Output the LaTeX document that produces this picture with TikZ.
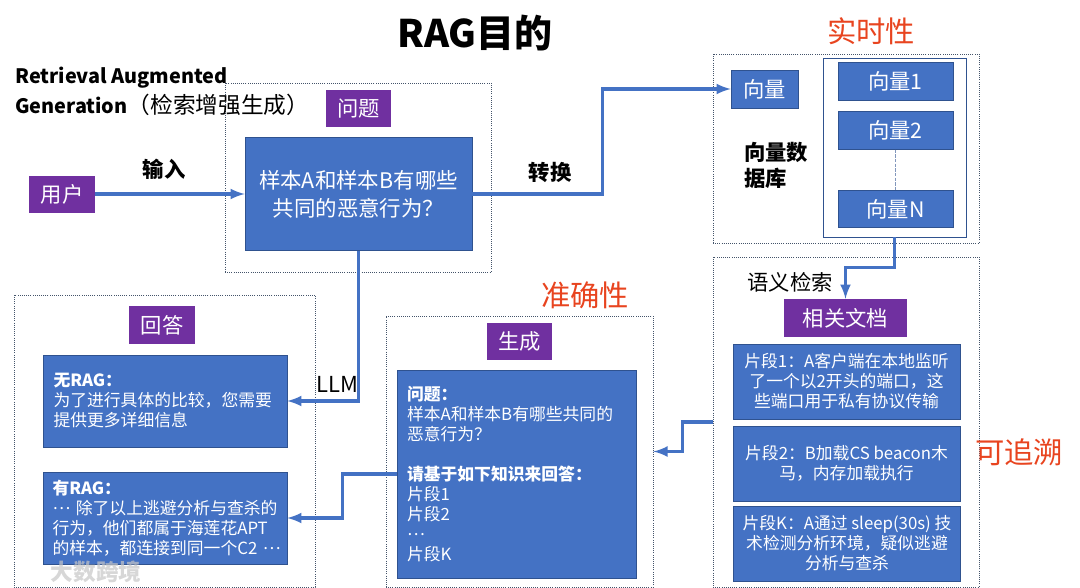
\documentclass[tikz,border=0pt]{standalone}
\usepackage{fontspec}
\setmainfont{Noto Sans CJK SC}
\definecolor{boxblue}{HTML}{4472C4}
\definecolor{boxedge}{HTML}{2F528F}
\definecolor{tagpurple}{HTML}{7030A0}
\definecolor{notered}{HTML}{E8441F}
\definecolor{panelline}{HTML}{44546A}
\newcommand{\middots}{\raisebox{0.3em}{⋯}}
\tikzset{
    sz/.style 2 args={minimum width=#1*0.75pt, minimum height=#2*0.75pt},
    panel/.style={draw=panelline, densely dotted, line width=0.6pt, inner sep=0pt},
    tag/.style={fill=tagpurple, text=white, inner sep=0pt, font=\fontsize{16}{20}\selectfont},
    block/.style={fill=boxblue, draw=boxedge, line width=0.4pt, text=white, inner sep=0pt, align=center},
    small/.style={font=\fontsize{12.6}{15}\selectfont},
    note/.style={text=notered, font=\fontsize{22}{25}\selectfont},
    flow/.style={->, draw=boxblue, line width=2.6pt},
    edgelabel/.style={black, font=\fontsize{16}{20}\selectfont\bfseries},
}
\begin{document}
\begin{tikzpicture}[>=latex, x=0.75pt, y=-0.75pt]
    \useasboundingbox (0,0) rectangle (1080,588);
    % Khung chấm
    \node[panel, sz={266}{189}] (askpanel) at (358,177.5) {};
    \node[panel, sz={266}{189}] (dbpanel) at (846,148.5) {};
    \node[panel, sz={266}{330}] (docpanel) at (846,422) {};
    \node[panel, sz={267}{271}] (genpanel) at (519.5,451.5) {};
    \node[panel, sz={301}{292}] (anspanel) at (164.5,441) {};
    % Tiêu đề
    \node[font=\fontsize{28.5}{32}\selectfont\bfseries] (title) at (475,33) {RAG目的};
    \node[anchor=north west, inner sep=0pt, align=left, font=\fontsize{14.9}{22.5}\selectfont] (intro) at (15,67)
        {\textbf{Retrieval Augmented}\\\textbf{Generation}{\fontsize{17}{22.5}\selectfont（检索增强生成）}};
    \node[note] (realtime) at (871,31) {实时性};
    \node[note] (accurate) at (585,295) {准确性};
    \node[note] (trace) at (1019,452) {可追溯};
    % Người dùng và câu hỏi
    \node[tag, sz={66}{37}] (user) at (62,194) {用户};
    \node[tag, sz={65}{37}] (asktag) at (358.5,108.5) {问题};
    \node[block, sz={227}{113}, font=\fontsize{16.1}{21}\selectfont] (ask) at (358.5,194)
        {样本A和样本B有哪些\\共同的恶意行为？};
    % Cơ sở dữ liệu
    \node[block, sz={67}{38}, font=\fontsize{16}{20}\selectfont] (vec) at (764.5,89) {向量};
    \node[draw=boxedge, fill=white, line width=0.6pt, sz={143}{179}] (vecstore) at (894.5,147.5) {};
    \foreach \name/\y/\lab in {vecone/81.5/向量1, vectwo/130.5/向量2, vecn/209/向量N} {
        \node[block, sz={115}{37.5}, font=\fontsize{16}{20}\selectfont] (\name) at (895.5,\y) {\lab};
    }
    \draw[boxedge!60, dash pattern=on 2.5pt off 1pt, line width=0.4pt] (vectwo) -- (vecn);
    \node[anchor=north west, inner sep=0pt, align=left, font=\fontsize{16}{19.5}\selectfont\bfseries] (dblabel) at (744,142)
        {向量数\\据库};
    % Tài liệu liên quan
    \node[font=\fontsize{16}{20}\selectfont] (search) at (790,282) {语义检索};
    \node[tag, sz={123}{38}] (docs) at (845.5,318) {相关文档};
    \node[block, small, sz={227}{75}] (chunka) at (846.5,381.5)
        {片段1：A客户端在本地监听\\了一个以2开头的端口，这\\些端口用于私有协议传输};
    \node[block, small, sz={227}{75}] (chunkb) at (846.5,463.5)
        {片段2：B加载CS beacon木\\马，内存加载执行};
    \node[block, small, sz={227}{75}] (chunkk) at (847,543.5)
        {片段K：A通过 sleep(30s) 技\\术检测分析环境，疑似逃避\\分析与查杀};
    % Sinh câu trả lời
    \node[tag, sz={65}{37}] (gentag) at (519.5,341.5) {生成};
    \node[block, small, sz={239}{208}, align=left, text width=219*0.75pt] (prompt) at (516.5,474)
        {\textbf{问题：}\\样本A和样本B有哪些共同的\\恶意行为？\\[15pt]\textbf{请基于如下知识来回答：}\\片段1\\片段2\\\middots\\片段K};
    \node[tag, sz={66}{38}] (anstag) at (162,325) {回答};
    \node[block, small, sz={244}{92}, align=left, text width=223*0.75pt] (norag) at (165,401)
        {\textbf{无RAG：}\\为了进行具体的比较，您需要\\提供更多详细信息};
    \node[block, small, sz={244}{92}, align=left, text width=225*0.75pt] (rag) at (165,518)
        {\textbf{有RAG：}\\\middots{} 除了以上逃避分析与查杀的\\行为，他们都属于海莲花APT\\的样本，都连接到同一个C2\rlap{ \middots}};
    \node[text=gray!45, opacity=0.7, font=\fontsize{17}{20}\selectfont\bfseries] (mark) at (96,572) {大数跨境};
    % Mũi tên
    \draw[flow] (user) -- (ask) node[pos=0.46, above=6pt, edgelabel] (inlabel) {输入};
    \draw[flow] (ask.east) -- ++(130,0) node[pos=0.6, above=4pt, edgelabel] (convlabel) {转换} |- (vec.west);
    \draw[flow] (vecstore.south) -- ++(0,30) -| (docs.north);
    \draw[flow] (ask.south) |- (norag.east);
    \node[font=\fontsize{16.5}{20}\selectfont] (llm) at (337,384) {LLM};
    \draw[flow] (docpanel.west) -- ++(-30,0) |- (genpanel.east);
    \draw[flow] (prompt.west) -- ++(-54,0) |- (rag.east);
\end{tikzpicture}
\end{document}
